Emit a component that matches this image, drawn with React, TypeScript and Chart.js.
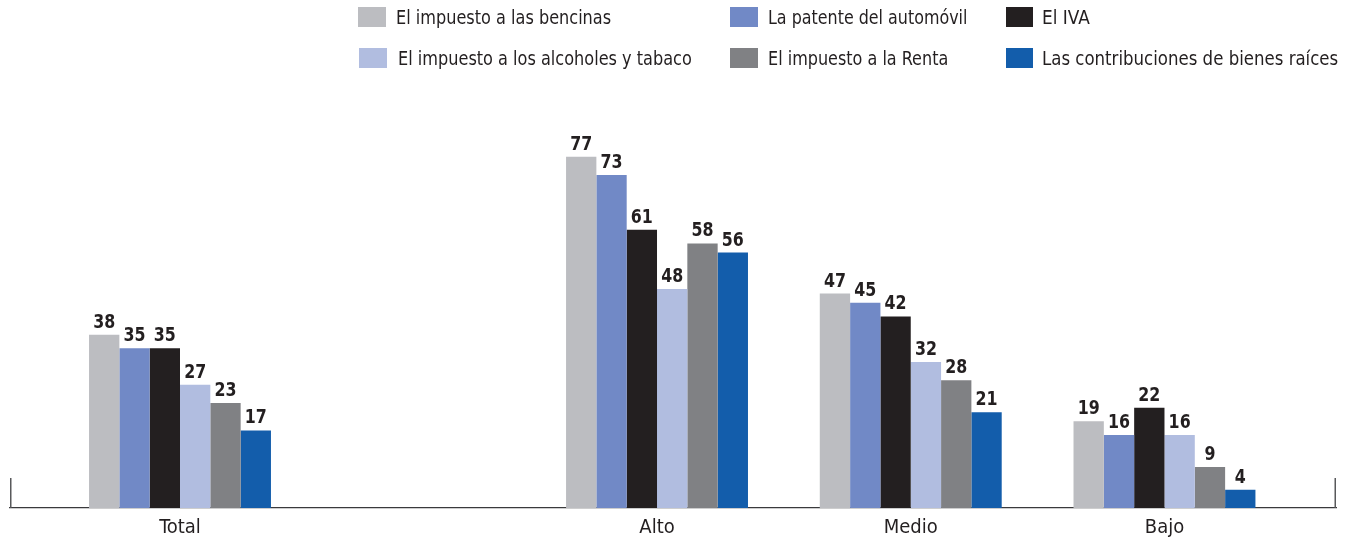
import React, { useEffect, useLayoutEffect, useRef } from 'react';
import { Chart, registerables } from 'chart.js';

Chart.register(...registerables);

// ---- data ----
const categories = ['Total', 'Alto', 'Medio', 'Bajo'];
const seriesLabels = [
  'El impuesto a las bencinas',
  'La patente del automóvil',
  'El IVA',
  'El impuesto a los alcoholes y tabaco',
  'El impuesto a la Renta',
  'Las contribuciones de bienes raíces',
];
const bencinas = [38, 77, 47, 19];
const patente = [35, 73, 45, 16];
const iva = [35, 61, 42, 22];
const alcoholes = [27, 48, 32, 16];
const renta = [23, 58, 28, 9];
const contribuciones = [17, 56, 21, 4];
const seriesValues = [bencinas, patente, iva, alcoholes, renta, contribuciones];

// ---- layout / style ----
const groupPositions = [0, 1.88, 2.88, 3.88];
const seriesColors = ['#bcbdc1', '#7189c6', '#231f20', '#b1bde0', '#808184', '#135dab'];
const FONT = '"DejaVu Sans Condensed", "Liberation Sans Narrow", "Arial Narrow", "Liberation Sans", sans-serif';
const TEXT = '#231f20';
const AXIS = '#58595b';

// legend grid: position of each series entry (swatch + text box)
const legendLayout = [
  { s: 0, x: 358, y: 7, w: 28, tx: 396, tw: 215 },
  { s: 1, x: 730, y: 7, w: 28, tx: 768, tw: 199 },
  { s: 2, x: 1006, y: 7, w: 27, tx: 1042, tw: 48 },
  { s: 3, x: 359, y: 48, w: 28, tx: 398, tw: 294 },
  { s: 4, x: 730, y: 48, w: 28, tx: 768, tw: 180 },
  { s: 5, x: 1006, y: 48, w: 27, tx: 1042, tw: 296 },
];

const valueLabels = {
  id: 'valueLabels',
  afterDatasetsDraw(chart: any) {
    const ctx = chart.ctx;
    chart.data.datasets.forEach((ds: any, i: number) => {
      const meta = chart.getDatasetMeta(i);
      meta.data.forEach((el: any, j: number) => {
        ctx.save();
        ctx.fillStyle = TEXT;
        ctx.font = `bold 20px ${FONT}`;
        ctx.textAlign = 'center';
        ctx.textBaseline = 'alphabetic';
        ctx.translate(el.x, el.y - 7);
        ctx.scale(0.88, 1);
        ctx.fillText(String(ds.data[j].y), 0, 0);
        ctx.restore();
      });
    });
  },
};

const endTicks = {
  id: 'endTicks',
  afterDraw(chart: any) {
    const { ctx, chartArea } = chart;
    ctx.save();
    ctx.strokeStyle = AXIS;
    ctx.lineWidth = 1.5;
    ctx.beginPath();
    ctx.moveTo(chartArea.left + 0.75, chartArea.bottom);
    ctx.lineTo(chartArea.left + 0.75, chartArea.bottom - 30);
    ctx.moveTo(chartArea.right - 0.75, chartArea.bottom);
    ctx.lineTo(chartArea.right - 0.75, chartArea.bottom - 30);
    ctx.stroke();
    ctx.restore();
  },
};

function LegendText({ text, left, top, width }: { text: string; left: number; top: number; width: number }) {
  const r = useRef<HTMLDivElement>(null);
  useLayoutEffect(() => {
    const el = r.current;
    if (!el) return;
    const w = el.offsetWidth;
    if (w > 0) el.style.transform = `scaleX(${width / w})`;
  }, [width, text]);
  return (
    <div
      ref={r}
      style={{
        position: 'absolute',
        left,
        top,
        height: 24,
        lineHeight: '24px',
        fontFamily: FONT,
        fontSize: 20,
        color: TEXT,
        whiteSpace: 'nowrap',
        transformOrigin: 'left center',
      }}
    >
      {text}
    </div>
  );
}

export default function App() {
  const ref = useRef<HTMLCanvasElement>(null);
  useEffect(() => {
    if (!ref.current) return;
    const datasets = seriesLabels.map((label, i) => ({
      label,
      data: seriesValues[i].map((v, j) => ({ x: groupPositions[j], y: v })),
      backgroundColor: seriesColors[i],
      borderWidth: 0,
      categoryPercentage: 0.717,
      barPercentage: 1,
    }));
    const chart = new Chart(ref.current, {
      type: 'bar',
      data: { datasets },
      options: {
        animation: false,
        responsive: true,
        maintainAspectRatio: false,
        layout: { padding: { top: 143, left: 10, right: 14, bottom: -7 } },
        plugins: { legend: { display: false }, tooltip: { enabled: false } },
        scales: {
          x: {
            type: 'linear',
            offset: false,
            min: -0.67,
            max: 4.556,
            afterBuildTicks: (scale: any) => {
              scale.ticks = groupPositions.map((v) => ({ value: v }));
            },
            grid: { display: false, drawTicks: false },
            border: { display: true, color: '#3a3a3c', width: 1.2 },
            ticks: {
              autoSkip: false,
              maxRotation: 0,
              padding: 12,
              color: TEXT,
              font: { family: FONT, size: 20, lineHeight: 0.8 },
              callback: (_v: any, idx: number) => categories[idx],
            },
          },
          y: {
            display: false,
            min: 0,
            max: 80,
          },
        },
      },
      plugins: [valueLabels, endTicks],
    } as any);
    return () => chart.destroy();
  }, []);

  return (
    <div style={{ position: 'fixed', left: 0, top: 0, width: 1350, height: 541, background: '#fff' }}>
      <canvas ref={ref} />
      {legendLayout.map((it) => (
        <React.Fragment key={it.s}>
          <div
            style={{
              position: 'absolute',
              left: it.x,
              top: it.y,
              width: it.w,
              height: 20,
              background: seriesColors[it.s],
            }}
          />
          <LegendText text={seriesLabels[it.s]} left={it.tx} top={it.y - 2} width={it.tw} />
        </React.Fragment>
      ))}
    </div>
  );
}
